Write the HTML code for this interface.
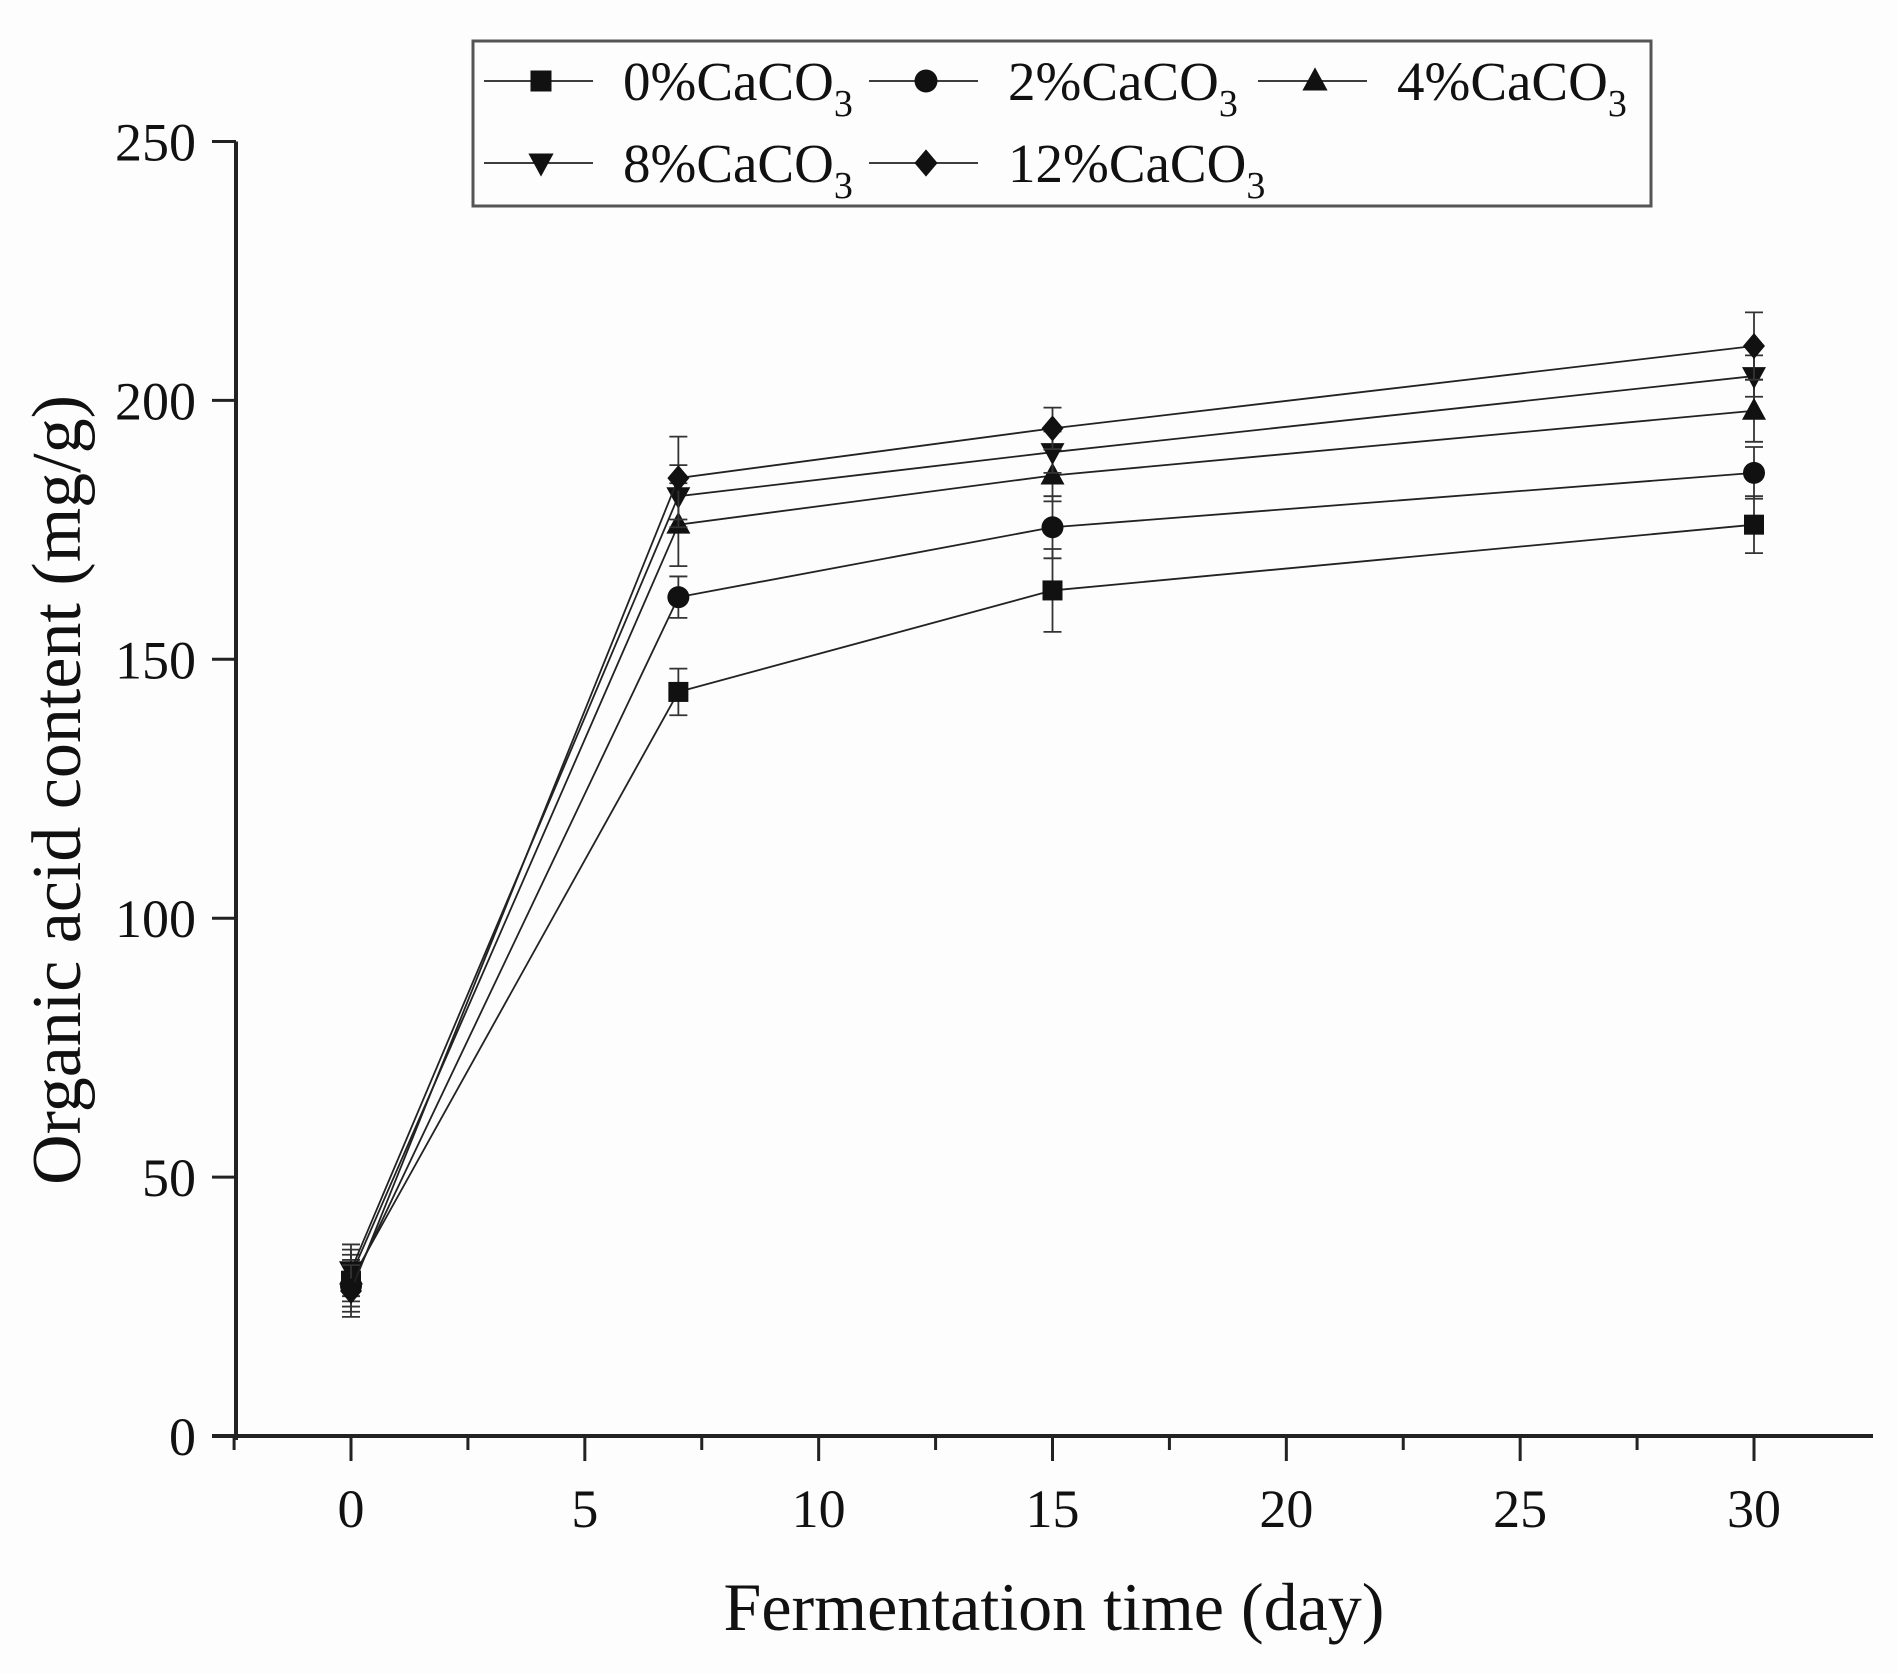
<!DOCTYPE html>
<html><head><meta charset="utf-8"><style>
html,body{margin:0;padding:0;background:#fdfdfd;}
svg{display:block;}
text{font-family:"Liberation Serif",serif;fill:#111;}
</style></head><body>
<svg id="chart" width="1897" height="1673" viewBox="0 0 1897 1673" xmlns="http://www.w3.org/2000/svg">
<g id="axes"></g>
<g id="series"></g>
<g id="legend"></g>
<text x="1054" y="1630" font-size="68" text-anchor="middle">Fermentation time (day)</text>
<text transform="translate(80,790) rotate(-90)" font-size="70" text-anchor="middle">Organic acid content (mg/g)</text>
</svg>
<script>
const days = [0, 7, 15, 30];
const seriesNames = ["0%", "2%", "4%", "8%", "12%"];
const markers = ["square", "circle", "triangle", "down", "diamond"];
const v0 = [30, 29, 31, 32, 28];
const v2 = [143.7, 162, 176, 181.5, 185];
const v4 = [163.3, 175.5, 185.5, 190, 194.6];
const v8 = [176, 186, 198, 204.7, 210.5];
const err0 = [5, 5, 5, 5, 5];
const err2 = [4.5, 4, 8, 6, 8];
const err4 = [8, 6, 5, 4, 4];
const err8 = [5.5, 5, 6, 4, 6.5];
const xTicks = [0, 5, 10, 15, 20, 25, 30];
const yTicks = [0, 50, 100, 150, 200, 250];

const NS = "http://www.w3.org/2000/svg";
const X = d => 351 + (d - 0) * (1754 - 351) / 30;
const Y = v => 1436 - v * (1436 - 141.5) / 250;
function mk(tag, attrs, parent) {
  const e = document.createElementNS(NS, tag);
  for (const k in attrs) e.setAttribute(k, attrs[k]);
  parent.appendChild(e);
  return e;
}
const axes = document.getElementById("axes");
const ser = document.getElementById("series");
const leg = document.getElementById("legend");

let a = mk("line", {x1: 236, y1: 141.5, x2: 236, y2: 1440, stroke: "#222", "stroke-width": 4}, axes);


a = mk("line", {x1: 212, y1: 1436, x2: 1873, y2: 1436, stroke: "#222", "stroke-width": 4}, axes);



xTicks.forEach(t => {
  const l = mk("line", {x1: X(t), y1: 1436, x2: X(t), y2: 1461, stroke: "#222", "stroke-width": 3}, axes);
  
  
  const tx = mk("text", {x: X(t), y: 1527, "font-size": 54, "text-anchor": "middle"}, axes);
  tx.textContent = t;
  
  
  if (t < 30) {
    const m = mk("line", {x1: X(t + 2.5), y1: 1436, x2: X(t + 2.5), y2: 1450, stroke: "#222", "stroke-width": 3}, axes);
    
    
  }
});
const mm = mk("line", {x1: X(-2.5), y1: 1436, x2: X(-2.5), y2: 1450, stroke: "#222", "stroke-width": 3}, axes);



yTicks.forEach(t => {
  const l = mk("line", {x1: 212, y1: Y(t), x2: 236, y2: Y(t), stroke: "#222", "stroke-width": 3}, axes);
  
  
  const tx = mk("text", {x: 196, y: Y(t) + 19, "font-size": 54, "text-anchor": "end"}, axes);
  tx.textContent = t;
  
  
});

function marker(type, x, y, s, parent) {
  let e;
  if (type === "square") e = mk("rect", {x: x - s/2, y: y - s/2, width: s, height: s, fill: "#111"}, parent);
  else if (type === "circle") e = mk("circle", {cx: x, cy: y, r: s/2 + 1, fill: "#111"}, parent);
  else if (type === "triangle") e = mk("polygon", {points: `${x},${y - s*0.65} ${x - s*0.6},${y + s*0.45} ${x + s*0.6},${y + s*0.45}`, fill: "#111"}, parent);
  else if (type === "down") e = mk("polygon", {points: `${x},${y + s*0.65} ${x - s*0.6},${y - s*0.45} ${x + s*0.6},${y - s*0.45}`, fill: "#111"}, parent);
  else e = mk("polygon", {points: `${x},${y - s*0.65} ${x + s*0.55},${y} ${x},${y + s*0.65} ${x - s*0.55},${y}`, fill: "#111"}, parent);
  return e;
}

const vals = [v0, v2, v4, v8];
const errs = [err0, err2, err4, err8];
seriesNames.forEach((name, i) => {
  const g = mk("g", {}, ser);
  
  
  const pts = days.map((d, j) => X(d) + "," + Y(vals[j][i])).join(" ");
  const pl = mk("polyline", {points: pts, fill: "none", stroke: "#222", "stroke-width": 1.8}, g);
  
  
  days.forEach((d, j) => {
    const x = X(d), v = vals[j][i], e = errs[j][i];
    const eb = mk("path", {d: `M${x},${Y(v + e)}V${Y(v - e)}M${x - 9},${Y(v + e)}H${x + 9}M${x - 9},${Y(v - e)}H${x + 9}`, stroke: "#333", "stroke-width": 1.8, fill: "none"}, g);
    
    
    const m = marker(markers[i], x, Y(v), 20, g);
    
    
  });
});

const box = mk("rect", {x: 473, y: 41, width: 1178, height: 165, fill: "none", stroke: "#555", "stroke-width": 3}, leg);


const legPos = [[484, 81], [869, 81], [1258, 81], [484, 163], [869, 163]];
seriesNames.forEach((name, i) => {
  const [lx, ly] = legPos[i];
  const g = mk("g", {}, leg);
  
  
  mk("line", {x1: lx, y1: ly, x2: lx + 109, y2: ly, stroke: "#222", "stroke-width": 1.8}, g);
  marker(markers[i], lx + 57, ly, 21, g);
  const t = mk("text", {x: lx + 139, y: ly + 19, "font-size": 55}, g);
  t.innerHTML = name + 'CaCO<tspan font-size="38" dy="16">3</tspan>';
});
</script>
</body></html>
